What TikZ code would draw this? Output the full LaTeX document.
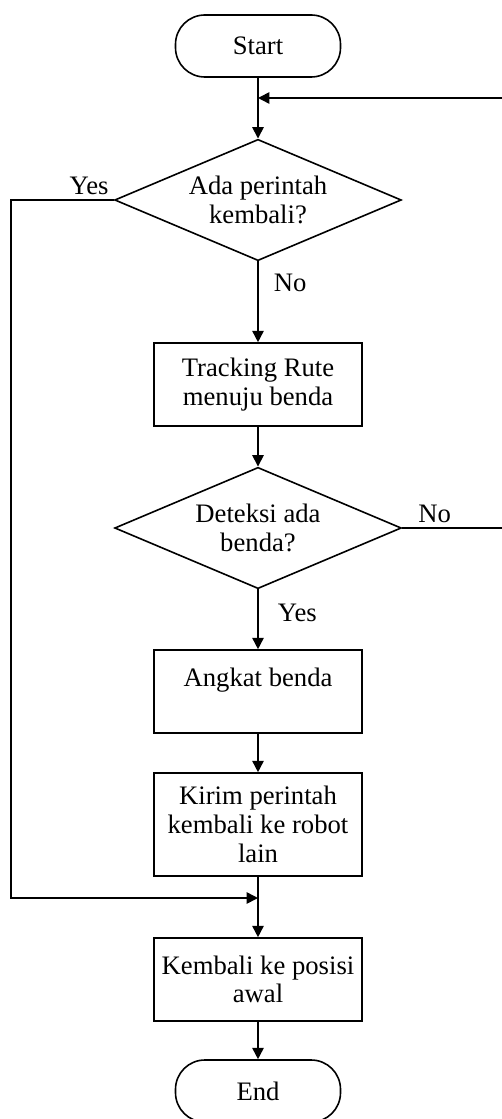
\documentclass[tikz,border=0pt]{standalone}
\usepackage{fontspec}
\setmainfont{Liberation Serif}
\usetikzlibrary{arrows.meta,shapes.geometric}

\begin{document}
\begin{tikzpicture}[x=.75pt,y=-.75pt,font=\fontsize{20}{21.5}\selectfont,
term/.style={draw,line width=1.2pt,rounded corners=22pt,minimum width=123.75pt,minimum height=46.5pt},
box/.style={draw,line width=1.2pt,align=center,minimum width=156pt,minimum height=62.25pt,inner sep=2pt},
dec/.style={draw,line width=1.2pt,diamond,align=center,inner sep=0pt,shape aspect=2.35,minimum width=215pt,minimum height=91pt},
arr/.style={-{Triangle[length=8.5pt,width=8.5pt]},line width=1.2pt},
ln/.style={line width=1.2pt}]

\useasboundingbox(0,0)rectangle(501,1119);
\node[term](start)at(258,46){Start};
\coordinate(back)at(258,98);
\node[dec](ask)at(258,200){Ada perintah\\kembali?};
\node[box](track)at(258,384.5){Tracking Rute\\menuju benda};
\node[dec](detect)at(258,528){Deteksi ada\\benda?};
\node[box](lift)at(258,691.5){Angkat benda\\~};
\node[box,minimum height=77.25pt](send)at(258,824.5){Kirim perintah\\kembali ke robot\\lain};
\coordinate(merge)at(258,898);
\node[box](home)at(258,979.5){Kembali ke posisi\\awal};
\node[term](stop)at(258,1091){End};

\draw[arr](start)--(ask);
\draw[arr](ask)--node[right=8pt,pos=.27]{No}(track);
\draw[arr](track)--(detect);
\draw[arr](detect)--node[right=11pt,pos=.39]{Yes}(lift);
\draw[arr](lift)--(send);
\draw[ln](send)--(merge);
\draw[arr](merge)--(home);
\draw[arr](home)--(stop);
\draw[arr](detect.east)--node[above,pos=.32]{No}++(102,0)|-(back);
\draw[arr](ask.west)--node[above,pos=.24]{Yes}++(-103,0)|-(merge);
\end{tikzpicture}
\end{document}
